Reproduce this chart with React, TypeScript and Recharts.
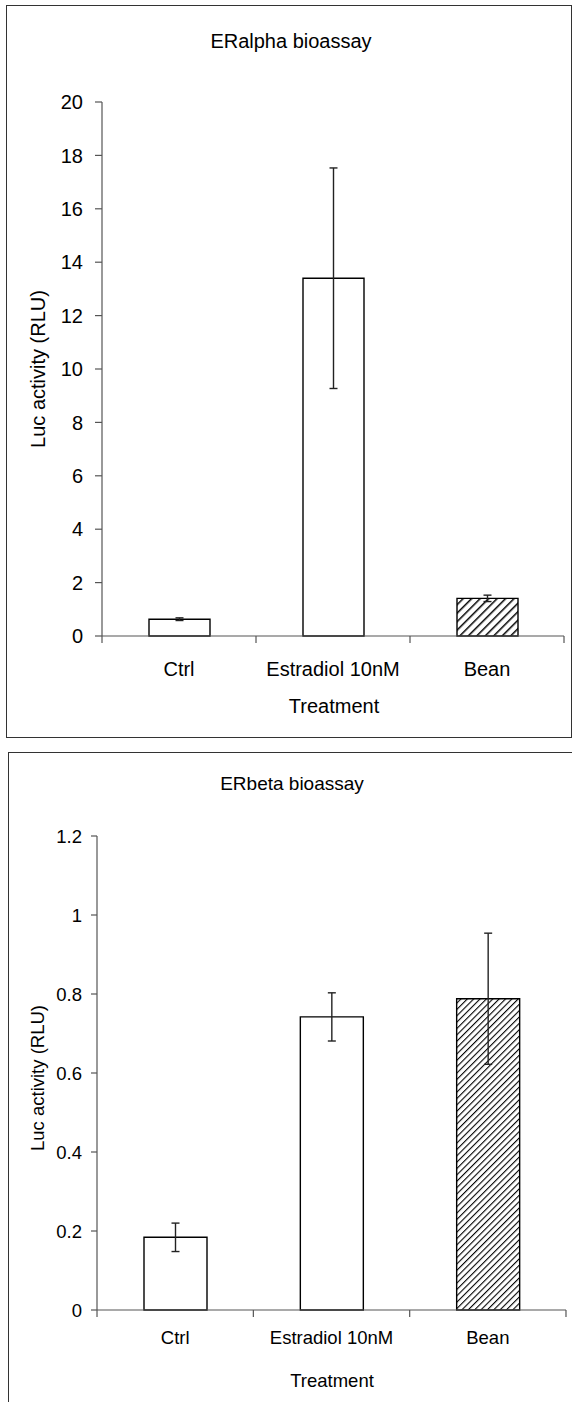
import React from 'react';
import { BarChart, Bar, XAxis, YAxis, ErrorBar, Cell } from 'recharts';

const categories = ['Ctrl', 'Estradiol 10nM', 'Bean'];
const hatched = [false, false, true];

// ERalpha panel
const alphaMeans = [0.63, 13.4, 1.41];
const alphaErrors = [0.05, 4.13, 0.12];
const alphaTicks = [0, 2, 4, 6, 8, 10, 12, 14, 16, 18, 20];

// ERbeta panel
const betaMeans = [0.184, 0.742, 0.788];
const betaErrors = [0.036, 0.061, 0.166];
const betaTicks = [0, 0.2, 0.4, 0.6, 0.8, 1, 1.2];

const FONT = '"Liberation Sans", Arial, sans-serif';
const AXIS = '#555';

function buildData(means: number[], errors: number[]) {
  return categories.map((name, i) => ({ name, value: means[i], err: errors[i], hatch: hatched[i] }));
}

// category label at the band centre, tick marks at the band edges (Excel style)
function CategoryTick(props: any) {
  const { x, y, index, payload, band, fontSize, labelDy, count } = props;
  const left = x - band / 2;
  const right = x + band / 2;
  return (
    <g>
      <line x1={left} x2={left} y1={y} y2={y + 7} stroke={AXIS} strokeWidth={1.2} />
      {index === count - 1 && <line x1={right} x2={right} y1={y} y2={y + 7} stroke={AXIS} strokeWidth={1.2} />}
      <text x={x} y={y + labelDy + fontSize * 0.35} textAnchor="middle" fontSize={fontSize} fill="#000" fontFamily={FONT}>
        {payload.value}
      </text>
    </g>
  );
}

interface PanelProps {
  id: string;
  data: { name: string; value: number; err: number; hatch: boolean }[];
  ticks: number[];
  domain: [number, number];
  height: number;
  margin: { top: number; right: number; bottom: number; left: number };
  yWidth: number;
  band: number;
  barSize: number;
  fontSize: number;
  labelDy: number;
  tickSize: number;
  tickMargin: number;
  hatchGap: number;
  hatchStroke: number;
}

function Panel(p: PanelProps) {
  return (
    <BarChart width={572} height={p.height} data={p.data} margin={p.margin} barSize={p.barSize}>
      <defs>
        <pattern id={p.id} patternUnits="userSpaceOnUse" width={p.hatchGap} height={p.hatchGap} patternTransform="rotate(45)">
          <rect width={p.hatchGap} height={p.hatchGap} fill="#fff" />
          <line x1={0} y1={0} x2={0} y2={p.hatchGap} stroke="#000" strokeWidth={p.hatchStroke} />
        </pattern>
      </defs>
      <XAxis
        dataKey="name"
        interval={0}
        height={90}
        tickLine={false}
        tickSize={0}
        tickMargin={0}
        axisLine={{ stroke: AXIS, strokeWidth: 1.2 }}
        tick={(t: any) => (
          <CategoryTick {...t} band={p.band} fontSize={p.fontSize} labelDy={p.labelDy} count={categories.length} />
        )}
      />
      <YAxis
        width={p.yWidth}
        domain={p.domain}
        ticks={p.ticks}
        interval={0}
        tickSize={p.tickSize}
        tickMargin={p.tickMargin}
        axisLine={{ stroke: AXIS, strokeWidth: 1.2 }}
        tickLine={{ stroke: AXIS, strokeWidth: 1.2 }}
        tick={{ fill: '#000', fontSize: p.fontSize, fontFamily: FONT }}
      />
      <Bar dataKey="value" stroke="#000" strokeWidth={1.4} isAnimationActive={false}>
        {p.data.map((d, i) => (
          <Cell key={i} fill={d.hatch ? `url(#${p.id})` : '#fff'} />
        ))}
        <ErrorBar dataKey="err" direction="y" width={4} stroke="#222" strokeWidth={1.4} />
      </Bar>
    </BarChart>
  );
}

const txt = (extra: React.CSSProperties): React.CSSProperties => ({
  position: 'absolute',
  fontFamily: FONT,
  color: '#000',
  lineHeight: 1,
  whiteSpace: 'nowrap',
  ...extra,
});

export default function App() {
  return (
    <div style={{ position: 'absolute', left: 0, top: 0, width: 572, height: 1402, overflow: 'hidden', background: '#fff' }}>
      {/* ERalpha */}
      <div style={{ position: 'absolute', left: 6, top: 5, width: 564, height: 731, border: '1.5px solid #333' }} />
      <div style={{ position: 'absolute', left: 0, top: 0 }}>
        <Panel
          id="hatchA"
          data={buildData(alphaMeans, alphaErrors)}
          ticks={alphaTicks}
          domain={[0, 20]}
          height={740}
          margin={{ top: 102, right: 8, bottom: 14, left: 0 }}
          yWidth={102}
          band={154}
          barSize={61}
          fontSize={20}
          labelDy={33}
          tickSize={7}
          tickMargin={12}
          hatchGap={6}
          hatchStroke={3}
        />
      </div>
      <div style={txt({ left: 291, top: 41, fontSize: 20, transform: 'translate(-50%, -50%)' })}>ERalpha bioassay</div>
      <div style={txt({ left: 38, top: 369, fontSize: 20, transform: 'translate(-50%, -50%) rotate(-90deg)' })}>Luc activity (RLU)</div>
      <div style={txt({ left: 334, top: 706, fontSize: 20, transform: 'translate(-50%, -50%)' })}>Treatment</div>

      {/* ERbeta */}
      <div style={{ position: 'absolute', left: 8, top: 752, width: 620, height: 700, border: '1.5px solid #333' }} />
      <div style={{ position: 'absolute', left: 0, top: 740 }}>
        <Panel
          id="hatchB"
          data={buildData(betaMeans, betaErrors)}
          ticks={betaTicks}
          domain={[0, 1.2]}
          height={662}
          margin={{ top: 96, right: 6, bottom: 2, left: 0 }}
          yWidth={97}
          band={156.3}
          barSize={63}
          fontSize={18.5}
          labelDy={28}
          tickSize={6}
          tickMargin={9}
          hatchGap={4.5}
          hatchStroke={2.2}
        />
      </div>
      <div style={txt({ left: 292, top: 783, fontSize: 19, transform: 'translate(-50%, -50%)' })}>ERbeta bioassay</div>
      <div style={txt({ left: 38, top: 1078, fontSize: 18.5, transform: 'translate(-50%, -50%) rotate(-90deg)' })}>Luc activity (RLU)</div>
      <div style={txt({ left: 332, top: 1381, fontSize: 18.5, transform: 'translate(-50%, -50%)' })}>Treatment</div>
    </div>
  );
}
